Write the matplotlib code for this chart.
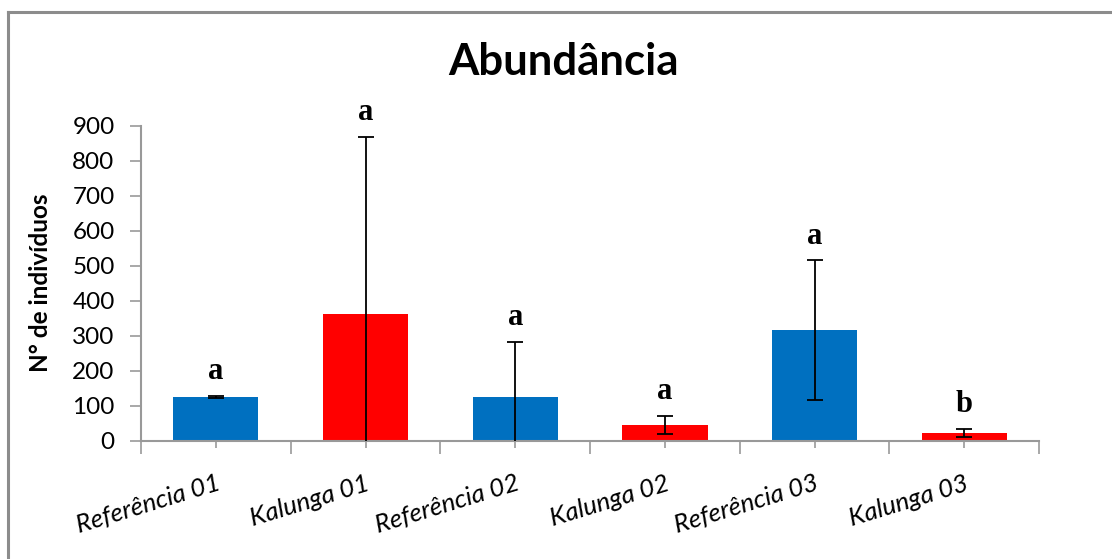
import matplotlib
matplotlib.use("Agg")
import matplotlib.pyplot as plt
from matplotlib.lines import Line2D
import numpy as np

# Mean abundance per site and its standard deviation
sites = ["Referência 01", "Kalunga 01", "Referência 02",
         "Kalunga 02", "Referência 03", "Kalunga 03"]
abundance = [125, 363, 127, 45, 316, 23]
std_dev = [3, 505, 156, 26, 200, 11]
groups = ["a", "a", "a", "a", "a", "b"]
bar_colors = ["#0070C0", "#FF0000", "#0070C0", "#FF0000", "#0070C0", "#FF0000"]
y_ticks = [0, 100, 200, 300, 400, 500, 600, 700, 800, 900]

sans = ["Lato", "DejaVu Sans"]
serif = ["Liberation Serif", "DejaVu Serif"]

fig = plt.figure(figsize=(11.12, 5.59), dpi=100)
ax = fig.add_axes([0.1268, 0.2111, 0.8076, 0.564])

x = np.arange(len(sites))
ax.bar(x, abundance, width=0.57, color=bar_colors, zorder=2)
ax.errorbar(x, abundance, yerr=std_dev, fmt="none", ecolor="black",
            elinewidth=1.3, capsize=6, capthick=1.3, zorder=3)

# Significance letters above each error bar
for xi, m, s, g in zip(x, abundance, std_dev, groups):
    ax.annotate(g, xy=(xi, m + s), xytext=(0, 7), textcoords="offset points",
                ha="center", va="bottom", fontsize=22, fontweight="bold",
                family=serif, color="black")

ax.set_xlim(-0.5, len(sites) - 0.5)
ax.set_ylim(0, 900)
ax.set_yticks(y_ticks)
ax.set_yticklabels([str(v) for v in y_ticks], family=sans, fontsize=17.5)

# Category labels at bar centres, tick marks at category boundaries
ax.set_xticks(np.arange(-0.5, len(sites), 1.0))
ax.set_xticklabels([])
ax.set_xticks(x, minor=True)
ax.set_xticklabels(sites, minor=True, rotation=17, ha="right",
                   rotation_mode="anchor", family=sans, fontsize=18.5,
                   style="italic")
ax.tick_params(axis="x", which="major", length=9, width=1.2, color="#999999")
ax.tick_params(axis="x", which="minor", length=5, width=1.2, color="#999999",
               pad=17)
ax.tick_params(axis="y", length=8, width=1.2, color="#999999", pad=11)

for side in ("top", "right"):
    ax.spines[side].set_visible(False)
for side in ("left", "bottom"):
    ax.spines[side].set_color("#999999")
    ax.spines[side].set_linewidth(1.5)

fig.text(0.507, 1 - 75 / 559, "Abundância", ha="center", va="baseline",
         fontsize=31.5, fontweight="bold", family=sans)
fig.text(41 / 1112, 0.4946, "N° de indivíduos", ha="center", va="center",
         rotation=90, fontsize=17.5, fontweight="bold", family=sans)

# Chart frame (top and left edges)
fig.add_artist(Line2D([8 / 1112, 8 / 1112], [0, 1 - 11.5 / 559],
                      transform=fig.transFigure, color="#8c8c8c", lw=2.2))
fig.add_artist(Line2D([8 / 1112, 1], [1 - 11.5 / 559, 1 - 11.5 / 559],
                      transform=fig.transFigure, color="#8c8c8c", lw=2.2))

fig.savefig("out.png", dpi=100)
